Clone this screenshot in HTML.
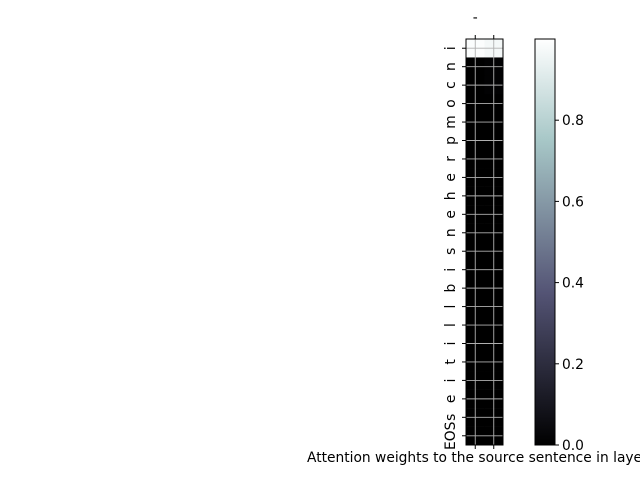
<!DOCTYPE html>
<html><head><meta charset="utf-8"><style>
html,body{margin:0;padding:0;background:#fff;}
svg text{font-family:"DejaVu Sans","Liberation Sans",sans-serif;font-size:13.8px;fill:#000;}
</style></head><body>
<svg id="chart" width="640" height="480" viewBox="0 0 640 480">
<defs>
<linearGradient id="bone" x1="0" y1="1" x2="0" y2="0">
<stop offset="0" stop-color="#000000"/>
<stop offset="0.375" stop-color="#545475"/>
<stop offset="0.75" stop-color="#a7c7c7"/>
<stop offset="1" stop-color="#ffffff"/>
</linearGradient>
</defs>
<g id="heat"></g>
<g id="cbar"></g>
<text x="307" y="462">Attention weights to the source sentence in layer</text>
</svg>
<script>
const rowLabels = ["i","n","c","o","m","p","r","e","h","e","n","s","i","b","l","l","i","t","i","e","s","EOS"];
const colLabels = ["-"," "];
const values = [
 [0.99,0.97],[0,0.01],[0,0.01],[0,0],[0,0],[0,0],[0,0],[0,0],[0,0],[0,0],[0,0],
 [0,0],[0,0],[0,0],[0,0],[0,0],[0,0],[0,0],[0,0],[0,0],[0,0],[0,0]
];
const cbarTicks = [0.0,0.2,0.4,0.6,0.8];
const vmax = 1.0;

const NS="http://www.w3.org/2000/svg";
const X0=466,X1=503,Y0=39,Y1=445;
const cw=(X1-X0)/colLabels.length, rh=(Y1-Y0)/rowLabels.length;
const xPos=i=>X0+i*cw, yPos=i=>Y0+i*rh;
function bone(t){
  const st=[[0,[0,0,0]],[0.375,[84,84,117]],[0.75,[167,199,199]],[1,[255,255,255]]];
  for(let i=1;i<st.length;i++){if(t<=st[i][0]){const a=st[i-1],b=st[i],f=(t-a[0])/(b[0]-a[0]);
  return `rgb(${a[1].map((v,k)=>Math.round(v+(b[1][k]-v)*f)).join(',')})`;}}
  return "#fff";
}
function mk(tag,attrs,parent){const e=document.createElementNS(NS,tag);for(const k in attrs)e.setAttribute(k,attrs[k]);parent.appendChild(e);return e;}
const heat=document.getElementById('heat');
values.forEach((row,r)=>row.forEach((v,c)=>{
  const e=mk('rect',{x:xPos(c),y:yPos(r),width:cw+0.3,height:rh+0.3,fill:bone(v/vmax)},heat);
  
  
}));
colLabels.forEach((l,c)=>{
  const cx=xPos(c)+cw/2;
  mk('line',{x1:cx,x2:cx,y1:Y0,y2:Y1,stroke:'#b0b0b0','stroke-width':0.9},heat);
  mk('line',{x1:cx,x2:cx,y1:Y0,y2:Y0-4,stroke:'#000'},heat);
  mk('line',{x1:cx,x2:cx,y1:Y1,y2:Y1+4,stroke:'#000'},heat);
  const t=mk('text',{x:cx,y:Y0-17,'text-anchor':'middle'},heat);t.textContent=l;
  
  
});
rowLabels.forEach((l,r)=>{
  const cy=yPos(r)+rh/2;
  mk('line',{x1:X0,x2:X1,y1:cy,y2:cy,stroke:'#b0b0b0','stroke-width':0.9},heat);
  mk('line',{x1:X0,x2:X0-4,y1:cy,y2:cy,stroke:'#000'},heat);
  const t=mk('text',{x:0,y:0,'text-anchor':'middle',transform:`translate(455,${cy}) rotate(-90)`},heat);t.textContent=l;
  
  
});
mk('rect',{x:X0,y:Y0,width:X1-X0,height:Y1-Y0,fill:'none',stroke:'#000','stroke-width':1},heat);
const cb=document.getElementById('cbar');
const CX0=535,CX1=555;
mk('rect',{x:CX0,y:Y0,width:CX1-CX0,height:Y1-Y0,fill:'url(#bone)',stroke:'#000','stroke-width':1},cb);
const cy=v=>Y1-(v/vmax)*(Y1-Y0);
cbarTicks.forEach(v=>{
  const y=cy(v);
  mk('line',{x1:CX1,x2:CX1+4,y1:y,y2:y,stroke:'#000'},cb);
  const t=mk('text',{x:CX1+7,y:y+5},cb);t.textContent=v.toFixed(1);
  
  
});
</script>
</body></html>
